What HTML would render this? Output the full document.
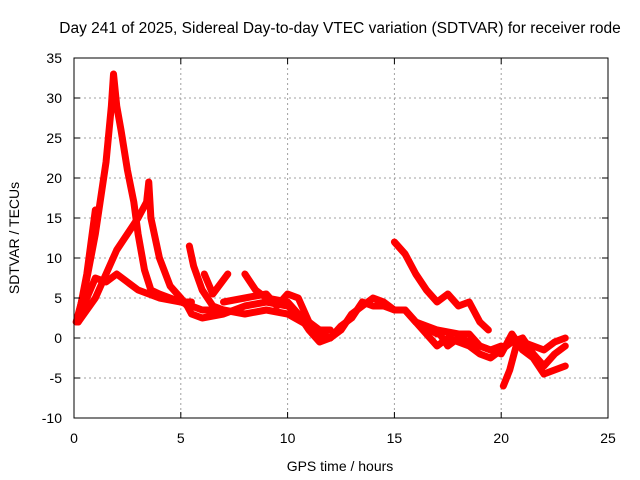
<!DOCTYPE html>
<html><head><meta charset="utf-8"><style>
body{margin:0;background:#fff}
svg{display:block;font-family:"Liberation Sans",Arial,sans-serif}
</style></head><body>
<svg id="c" width="640" height="480" viewBox="0 0 640 480">
<text x="340" y="33" font-size="15.5" text-anchor="middle">Day 241 of 2025, Sidereal Day-to-day VTEC variation (SDTVAR) for receiver rode</text>
<g id="grid"></g>
<g id="series"></g>
<rect x="74" y="58" width="534" height="360" fill="none" stroke="#000" stroke-width="1"/>
<g id="axes" font-size="14"></g>
<text x="340" y="471" font-size="14" text-anchor="middle">GPS time / hours</text>
<text transform="translate(19,238) rotate(-90)" font-size="14" text-anchor="middle">SDTVAR / TECUs</text>
</svg>
<script>
const xTicks=[0,5,10,15,20,25];
const yTicks=[-10,-5,0,5,10,15,20,25,30,35];
const trackA=[[0.1,2],[0.5,6],[1,13],[1.5,22],[1.75,29],[1.85,33],[2,29],[2.2,26],[2.5,21],[2.8,17],[3,13],[3.3,8.5],[3.6,6],[4,5.5],[4.5,5],[5,4.5],[5.5,4.5]];
const trackB=[[0.2,2],[0.6,5],[1,7.5],[1.5,7],[2,8],[2.5,7],[3,6],[3.5,5.5],[4,5],[5,4.5],[5.5,4],[6,3.5],[7,3.5],[8,3],[9,3.5],[10,3],[11,1.5],[11.5,0.5],[12,0]];
const trackC=[[0.2,2],[1,5],[1.5,8],[2,11],[2.5,13],[3,15],[3.4,17],[3.5,19.5],[3.6,15],[4,10],[4.5,6.5],[5,5],[5.3,4],[5.5,3],[6,2.5],[7,3],[8,4],[9,4.5],[10,4],[10.5,3],[11,1],[11.5,-0.5],[12,0],[12.5,1],[13,3],[13.5,4],[14,5],[14.5,4.5],[15,3.5],[15.5,3.5],[16,2],[17,0.5]];
const trackD=[[0.2,2.5],[0.6,8],[1,16]];
const trackE=[[5.4,11.5],[5.6,9],[6,6],[6.5,4],[7,3.5]];
const trackF=[[6.1,8],[6.5,5.5],[7.2,8]];
const trackG=[[8,8],[8.5,6],[9,5],[10,4.5],[10.5,3],[11,2],[11.5,1],[12,1]];
const trackH=[[7,4.5],[8,5],[9,5.5],[9.5,4],[10,5.5],[10.5,5],[11,2],[11.5,0.5],[12,0],[12.5,1.5],[13,2.5],[13.5,4.5],[14,4],[14.5,4],[15,3.5],[15.5,3.5],[16,2]];
const trackI=[[15,12],[15.5,10.5],[16,8],[16.5,6],[17,4.5],[17.5,5.5],[18,4],[18.5,4.5],[19,2],[19.4,1]];
const trackJ=[[16,2],[16.5,0.5],[17,-1],[17.5,0],[18,-0.5],[18.5,-1],[19,-2],[19.5,-2.5],[20,-1.5],[20.5,-0.5],[21,0],[21.5,-2],[22,-3.5],[22.5,-2],[23,-1]];
const trackK=[[17,1],[17.5,-1],[18,0],[18.5,-0.5],[19,-1],[20,-2],[20.5,0.5],[21,-1.5],[21.5,-2.5],[22,-4.5],[22.5,-4],[23,-3.5]];
const trackL=[[20.1,-6],[20.4,-4],[20.7,-1],[21,-0.5],[21.5,-1],[22,-1.5],[22.5,-0.5],[23,0]];
const trackM=[[16,2],[17,1],[18,0.5],[18.5,0.5],[19,-1],[19.5,-1.5],[20,-1]];
const tracks=[trackA,trackB,trackC,trackD,trackE,trackF,trackG,trackH,trackI,trackJ,trackK,trackL,trackM];
const NS="http://www.w3.org/2000/svg";
const X0=74,X1=608,Y0=418,Y1=58;
const sx=v=>X0+(v-0)/(25-0)*(X1-X0);
const sy=v=>Y0-(v+10)/(35+10)*(Y0-Y1);
const grid=document.getElementById('grid'),axes=document.getElementById('axes'),ser=document.getElementById('series');
function mk(t,a,p){const e=document.createElementNS(NS,t);for(const k in a)e.setAttribute(k,a[k]);p.appendChild(e);return e;}
xTicks.forEach(v=>{const x=sx(v);
 if(v>0&&v<25){const g=mk('line',{x1:x,x2:x,y1:Y1,y2:Y0,stroke:'#a0a0a0','stroke-dasharray':'2,3'},grid);
 
 }
 mk('line',{x1:x,x2:x,y1:Y0,y2:Y0-6,stroke:'#000'},axes);
 mk('line',{x1:x,x2:x,y1:Y1,y2:Y1+6,stroke:'#000'},axes);
 const t=mk('text',{x:x,y:443,'text-anchor':'middle'},axes);t.textContent=v;
 
 
});
yTicks.forEach(v=>{const y=sy(v);
 if(v>-10&&v<35){const g=mk('line',{x1:X0,x2:X1,y1:y,y2:y,stroke:'#a0a0a0','stroke-dasharray':'2,3'},grid);
 
 }
 mk('line',{x1:X0,x2:X0+6,y1:y,y2:y,stroke:'#000'},axes);
 mk('line',{x1:X1,x2:X1-6,y1:y,y2:y,stroke:'#000'},axes);
 const t=mk('text',{x:62,y:y+5,'text-anchor':'end'},axes);t.textContent=v;
 
 
});
tracks.forEach(tr=>{
 const p=mk('polyline',{points:tr.map(d=>sx(d[0])+','+sy(d[1])).join(' '),fill:'none',stroke:'#ff0000','stroke-width':7,'stroke-linejoin':'round','stroke-linecap':'round'},ser);
 
 
});
</script>
</body></html>
